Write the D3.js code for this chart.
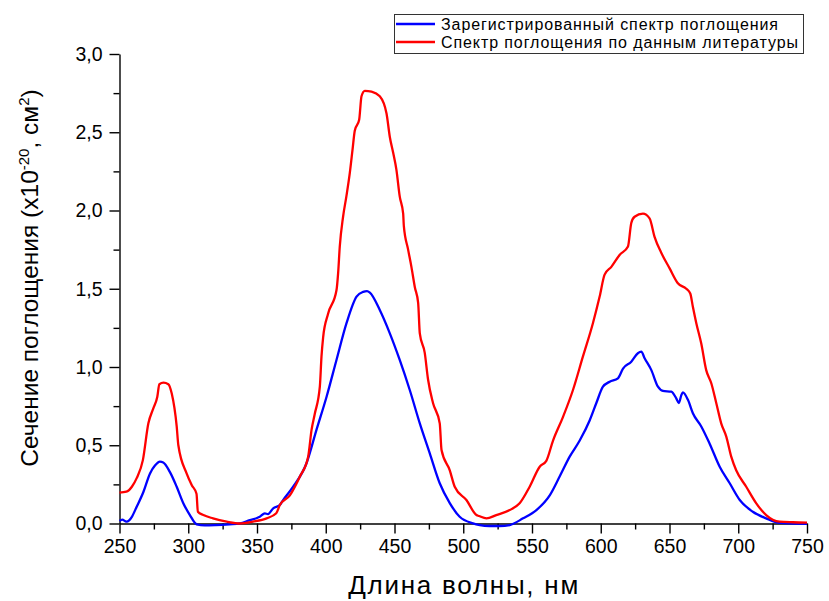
<!DOCTYPE html>
<html><head><meta charset="utf-8">
<script src="https://cdn.jsdelivr.net/npm/d3@7"></script>
<style>
html,body{margin:0;padding:0;background:#fff;}
text{font-family:"Liberation Sans",Arial,sans-serif;fill:#000;}
</style></head>
<body>
<svg id="chart" width="829" height="601"></svg>
<script>
// ---- data ----
const xTicks = [250,300,350,400,450,500,550,600,650,700,750];
const yTicks = [0,0.5,1.0,1.5,2.0,2.5,3.0];
const seriesNames = ["Зарегистрированный спектр поглощения","Спектр поглощения по данным литературы"];
const xTitle = "Длина волны, нм";

const blueX = [250,252,255,257,259,262.5,267.3,272.2,275.8,279.4,281.8,286.6,291.6,296.4,301.2,306.1,312,320,330,337.6,344.8,350,352,355.7,358,361.8,366.6,369,376.3,386,393.3,400.6,407.8,415.1,422.4,427.2,430,432.1,439.3,446.6,453.8,461.1,468.4,475.6,482.9,490.2,497.4,507.1,512,519,526.5,533.8,543.5,553.2,562.9,570.1,577.4,584.7,592,596.8,601.6,606.5,612.5,616.2,622.2,627,629.5,631.9,636.8,641.6,645.2,651.3,654.9,656.8,658.6,659.7,663.4,667,673.1,679.2,686.5,693.8,701.1,710.6,720.3,730,740,750];
const blueY = [0.016,0.025,0.012,0.02,0.043,0.107,0.20,0.32,0.37,0.395,0.39,0.33,0.235,0.13,0.054,-0.005,-0.012,-0.01,-0.005,0.0,0.022,0.035,0.043,0.065,0.06,0.097,0.118,0.15,0.235,0.385,0.60,0.81,1.045,1.28,1.45,1.48,1.485,1.475,1.364,1.215,1.045,0.853,0.64,0.45,0.257,0.13,0.043,0.001,-0.01,-0.016,-0.016,-0.01,0.033,0.086,0.18,0.30,0.427,0.53,0.66,0.77,0.874,0.906,0.928,0.99,1.034,1.088,1.098,1.056,0.98,0.874,0.847,0.842,0.80,0.77,0.82,0.838,0.79,0.704,0.62,0.51,0.363,0.257,0.15,0.075,0.033,0.004,0.0,-0.003];

const redX = [250,255,259,262.5,267,271,274.6,277.5,279,282,285.5,288,291.6,292.8,298.8,302.5,306,307,311,318,328,337.6,347,357,364,366.6,373.9,381.2,387.2,389.7,392,395.7,396.9,398.1,401.7,407.8,409,410.2,412.6,415,417.5,419.5,421.1,424.3,426,428.4,433.3,439.3,444.2,446.6,449,451.4,453.8,456.3,456.8,459.9,462.3,464.8,467.2,468.4,472,474.4,478,482.9,484.2,490.2,493.8,502.3,509.6,511.4,516.9,524,533.8,541,548.3,555.6,560.4,565.3,572.5,579.8,587,594.3,599.2,602.8,607.7,613.7,619.8,622.2,624.6,630.7,635.5,639.2,644,650.1,656.1,662.2,665.1,667,669.5,673.1,676.7,680.4,684,687.6,691.3,694.9,698.5,705.8,713.1,720.3,730,739.7,750];
const redY = [0.197,0.203,0.235,0.29,0.405,0.64,0.736,0.81,0.89,0.90,0.89,0.83,0.62,0.50,0.32,0.246,0.19,0.075,0.054,0.033,0.012,0.0,0.012,0.033,0.065,0.118,0.18,0.30,0.427,0.60,0.70,0.874,1.066,1.19,1.34,1.49,1.60,1.77,1.96,2.09,2.24,2.39,2.51,2.58,2.73,2.765,2.76,2.73,2.62,2.47,2.37,2.26,2.09,1.98,1.90,1.75,1.64,1.51,1.41,1.215,1.09,0.92,0.77,0.64,0.47,0.34,0.235,0.15,0.054,0.048,0.033,0.054,0.086,0.129,0.235,0.363,0.40,0.53,0.68,0.853,1.066,1.28,1.45,1.59,1.64,1.716,1.77,1.92,1.96,1.98,1.95,1.83,1.73,1.63,1.535,1.50,1.47,1.385,1.28,1.15,0.98,0.896,0.77,0.64,0.555,0.427,0.34,0.235,0.129,0.054,0.012,0.008,0.006];

// ---- layout ----
const svg = d3.select("#chart");
const L = 119.5, R = 807, T = 54, B = 523.5;
const x = d3.scaleLinear().domain([250,750]).range([L,R]);
const y = d3.scaleLinear().domain([0,3]).range([B,T]);
const fmt = d => d.toFixed(1).replace(".", ",");

// x axis
svg.append("g").attr("transform",`translate(0,${B})`)
  .call(d3.axisBottom(x).tickValues(xTicks).tickSize(10).tickSizeOuter(0).tickPadding(6).tickFormat(d3.format("d")));
svg.append("g").attr("transform",`translate(0,${B})`)
  .call(d3.axisBottom(x).tickValues(d3.range(275,750,50)).tickSize(6).tickSizeOuter(0).tickFormat(""))
  .select(".domain").remove();
// y axis
svg.append("g").attr("transform",`translate(${L},0)`)
  .call(d3.axisLeft(y).tickValues(yTicks).tickSize(10).tickSizeOuter(0).tickPadding(7).tickFormat(fmt));
svg.append("g").attr("transform",`translate(${L},0)`)
  .call(d3.axisLeft(y).tickValues([0.25,0.75,1.25,1.75,2.25,2.75]).tickSize(6).tickSizeOuter(0).tickFormat(""))
  .select(".domain").remove();
svg.selectAll(".tick line").attr("stroke","#000").attr("stroke-width",1.4);
svg.selectAll(".domain").attr("stroke","#000").attr("stroke-width",1.4);
svg.selectAll(".tick text").attr("font-size",19.5).attr("font-family","Liberation Sans, Arial, sans-serif").attr("fill","#000");

// lines
const line = d3.line().x(d=>x(d[0])).y(d=>y(d[1])).curve(d3.curveMonotoneX);
svg.append("path").datum(d3.zip(blueX,blueY)).attr("d",line)
  .attr("fill","none").attr("stroke","#0000ff").attr("stroke-width",2.3).attr("stroke-linejoin","round");
svg.append("path").datum(d3.zip(redX,redY)).attr("d",line)
  .attr("fill","none").attr("stroke","#ff0000").attr("stroke-width",2.3).attr("stroke-linejoin","round");

// axis titles
svg.append("text").attr("x",(L+R)/2).attr("y",594).attr("text-anchor","middle")
  .attr("font-size",26).attr("textLength",230).text(xTitle);
const yt = svg.append("text").attr("transform","translate(38,278) rotate(-90)")
  .attr("text-anchor","middle").attr("font-size",24.5);
yt.append("tspan").text("Сечение поглощения (x10");
yt.append("tspan").attr("dy",-9).attr("font-size",15).text("-20");
yt.append("tspan").attr("dy",9).text(", см");
yt.append("tspan").attr("dy",-9).attr("font-size",15).text("2");
yt.append("tspan").attr("dy",9).text(")");

// legend
const lg = svg.append("g");
lg.append("rect").attr("x",394.5).attr("y",14.5).attr("width",409).attr("height",39)
  .attr("fill","#fff").attr("stroke","#333").attr("stroke-width",1);
const colors = ["#0000ff","#ff0000"];
const legendW = [337,357];
seriesNames.forEach((n,i)=>{
  const yy = 24 + i*18;
  lg.append("line").attr("x1",396).attr("x2",435).attr("y1",yy).attr("y2",yy)
    .attr("stroke",colors[i]).attr("stroke-width",2.3);
  lg.append("text").attr("x",441).attr("y",yy+5.5).attr("font-size",16)
    .attr("textLength",legendW[i]).text(n);
});
</script>
</body></html>
